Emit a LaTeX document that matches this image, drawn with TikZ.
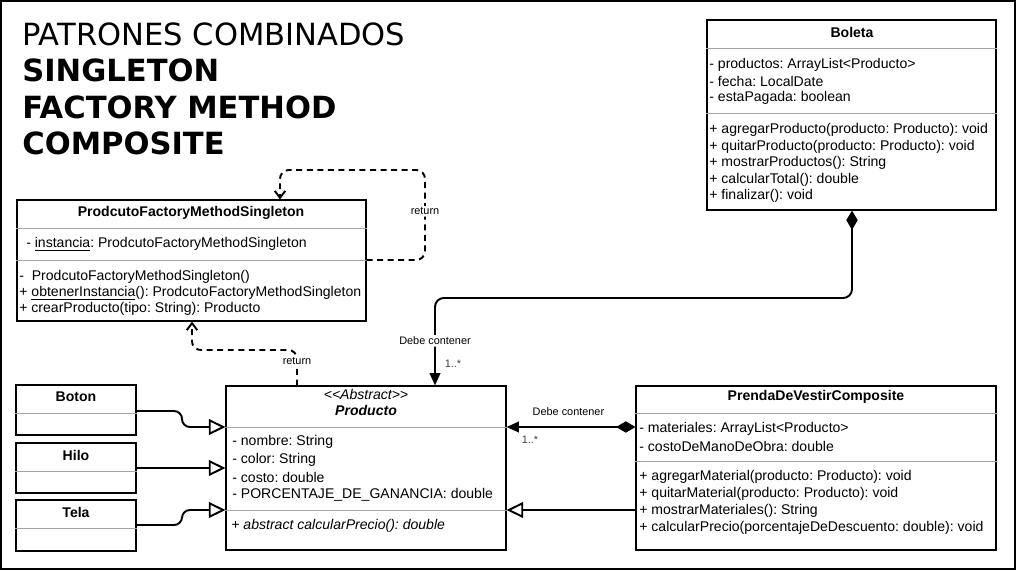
\documentclass[tikz,border=0pt]{standalone}
\usepackage{fontspec}
\setmainfont{Liberation Sans}
\newfontfamily\titlefont{DejaVu Sans}
\usetikzlibrary{arrows.meta,fit,positioning}
\frenchspacing

\begin{document}
\begin{tikzpicture}[
    x=0.02cm, y=-0.02cm,
    cls/.style={draw, line width=0.6pt, inner sep=0pt},
    sep/.style={draw=gray!70, line width=0.5pt},
    txt/.style={anchor=west, inner sep=0pt, font=\fontsize{8}{9}\selectfont},
    head/.style={inner sep=0pt, font=\fontsize{8}{9}\selectfont\bfseries},
    lbl/.style={inner sep=1pt, fill=white, font=\fontsize{6.2}{7}\selectfont},
    mult/.style={inner sep=0pt, text=black!75, font=\fontsize{6.2}{7}\selectfont},
    title/.style={anchor=base west, inner sep=0pt, font=\titlefont\fontsize{17.4}{20}\selectfont},
    link/.style={line width=1.1pt, rounded corners=5pt},
    ret/.style={link, dash pattern=on 3.4pt off 2.6pt, -{Straight Barb[length=4pt, width=6pt]}},
    gen/.style={link, rounded corners=4.5pt, -{Triangle[open, length=9.5pt, width=9pt]}},
    comp/.style={link, {Diamond[length=11pt, width=6.5pt]}-{Stealth[length=7pt, width=6pt, inset=0pt]}}
]
    \useasboundingbox (0,0) rectangle (1017,571);
    \draw[line width=0.9pt] (1,1) rectangle (1015,569);

    % Title
    \node[title] (title1) at (22,46) {PATRONES COMBINADOS};
    \node[title, font=\titlefont\fontsize{17.4}{20}\selectfont\bfseries] (title2) at (22,82) {SINGLETON};
    \node[title, font=\titlefont\fontsize{17.4}{20}\selectfont\bfseries] (title3) at (22,118) {FACTORY METHOD};
    \node[title, font=\titlefont\fontsize{17.4}{20}\selectfont\bfseries] (title4) at (22,154) {COMPOSITE};

    % Boleta
    \node[cls, fit={(707,20) (996,210)}] (boleta) {};
    \node[head] (boleta-h) at (852,32) {Boleta};
    \draw[sep] (boleta.west |- 0,48) -- (boleta.east |- 0,48);
    \draw[sep] (boleta.west |- 0,113) -- (boleta.east |- 0,113);
    \foreach \t [count=\i] in {{- productos: ArrayList<Producto>}, {- fecha: LocalDate}, {- estaPagada: boolean}}
        \node[txt] (boleta-a\i) at (709,{65+16.5*(\i-1)}) {\t};
    \foreach \t [count=\i] in {{+ agregarProducto(producto: Producto): void}, {+ quitarProducto(producto: Producto): void},
        {+ mostrarProductos(): String}, {+ calcularTotal(): double}, {+ finalizar(): void}}
        \node[txt] (boleta-m\i) at (709,{130+16.5*(\i-1)}) {\t};

    % Singleton factory
    \node[cls, fit={(17,200) (366,321)}] (factory) {};
    \node[head] (factory-h) at (191,213) {ProdcutoFactoryMethodSingleton};
    \draw[sep] (factory.west |- 0,228) -- (factory.east |- 0,228);
    \draw[sep] (factory.west |- 0,260) -- (factory.east |- 0,260);
    \node[txt] (factory-a1) at (22,244) {\ - \underline{instancia}: ProdcutoFactoryMethodSingleton};
    \node[txt] (factory-m1) at (19,277) {-\ \ ProdcutoFactoryMethodSingleton()};
    \node[txt] (factory-m2) at (19,293) {+ \underline{obtenerInstancia}(): ProdcutoFactoryMethodSingleton};
    \node[txt] (factory-m3) at (19,309) {+ crearProducto(tipo: String): Producto};

    % Producto
    \node[cls, fit={(226,386) (506,550)}] (producto) {};
    \node[inner sep=0pt, font=\fontsize{8}{9}\selectfont\itshape] (producto-s) at (366,394) {<{}<Abstract>{}>};
    \node[head, font=\fontsize{8}{9}\selectfont\bfseries\itshape] (producto-h) at (366,410) {Producto};
    \draw[sep] (producto.west |- 0,427) -- (producto.east |- 0,427);
    \draw[sep] (producto.west |- 0,510) -- (producto.east |- 0,510);
    \foreach \t [count=\i] in {{- nombre: String}, {- color: String}, {- costo: double}, {- PORCENTAJE\_DE\_GANANCIA: double}}
        \node[txt] (producto-a\i) at (232,{442+17.5*(\i-1)}) {\t};
    \node[txt, font=\fontsize{8}{9}\selectfont\itshape] (producto-m1) at (231,526) {+ abstract calcularPrecio(): double};

    % Leaf classes
    \foreach \n/\y/\s/\b/\t in {boton/385/413/435/Boton, hilo/443/471/493/Hilo, tela/500/528/551/Tela} {
        \node[cls, fit={(16,\y) (136,\b)}] (\n) {};
        \node[head] (\n-h) at (76,\y+12) {\t};
        \draw[sep] (\n.west |- 0,\s) -- (\n.east |- 0,\s);
    }

    % Composite
    \node[cls, fit={(636,386) (996,550)}] (prenda) {};
    \node[head] (prenda-h) at (816,397) {PrendaDeVestirComposite};
    \draw[sep] (prenda.west |- 0,413) -- (prenda.east |- 0,413);
    \draw[sep] (prenda.west |- 0,461) -- (prenda.east |- 0,461);
    \node[txt] (prenda-a1) at (639,429) {- materiales: ArrayList<Producto>};
    \node[txt] (prenda-a2) at (639,446) {- costoDeManoDeObra: double};
    \foreach \t [count=\i] in {{+ agregarMaterial(producto: Producto): void}, {+ quitarMaterial(producto: Producto): void},
        {+ mostrarMateriales(): String}, {+ calcularPrecio(porcentajeDeDescuento: double): void}}
        \node[txt] (prenda-m\i) at (639,{477+17*(\i-1)}) {\t};

    % Singleton return loops
    \draw[ret] (factory.east |- 0,260) -| node[lbl, pos=0.77] (ret1) {return}
        (425,170) -| (factory.north -| 280,0);
    \draw[ret] (producto.north -| 297,0) |- node[lbl, pos=0.34] (ret2) {return}
        (192,350) -- (factory.south -| 192,0);

    % Boleta contains productos
    \draw[comp] (boleta.south -| 852,0) |- (435,298) -- (producto.north -| 435,0)
        node[lbl, pos=0.49] (deb1) {Debe contener}
        node[mult, pos=0.75, right=5pt] (mul1) {1..*};

    % Composite contains productos
    \draw[comp] (prenda.west |- 0,427) -- (producto.east |- 0,427)
        node[inner sep=0pt, font=\fontsize{6.2}{7}\selectfont, pos=0.52, above=6pt] (deb2) {Debe contener};
    \node[mult] (mul2) at (530,440) {1..*};

    % Generalisations
    \draw[gen] (prenda.west |- 0,510) -- (producto.east |- 0,510);
    \draw[gen] (boton.east |- 0,411) -| (182,427) -- (producto.west |- 0,427);
    \draw[gen] (hilo.east |- 0,468) -- (producto.west |- 0,468);
    \draw[gen] (tela.east |- 0,525) -| (182,510) -- (producto.west |- 0,510);

\end{tikzpicture}
\end{document}
